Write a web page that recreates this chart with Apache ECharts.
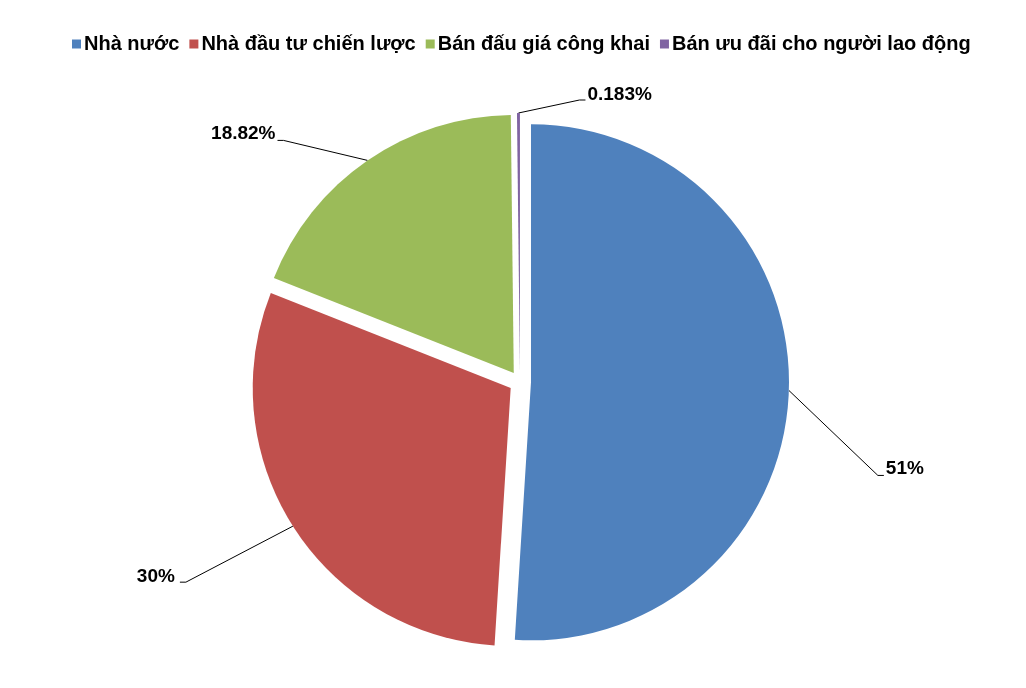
<!DOCTYPE html>
<html>
<head>
<meta charset="utf-8">
<script src="https://cdn.jsdelivr.net/npm/echarts@6/dist/echarts.min.js"></script>
<style>
html,body{margin:0;padding:0;background:#fff;}
#c{width:1026px;height:688px;}
</style>
</head>
<body>
<div id="c"></div>
<script>
const categories = ['Nhà nước', 'Nhà đầu tư chiến lược', 'Bán đấu giá công khai', 'Bán ưu đãi cho người lao động'];
const shareValues = [51, 30, 18.82, 0.183];
const colors = ['#4F81BD', '#C0504D', '#9BBB59', '#8064A2'];
// leader-line elbow offsets from slice edge (styling)
const elbowOffsets = [[89, 85], [-107, 56], [-84, -20], [61, -13]];
const labelRaise = [7, 5, 7, 5];
const labelGap = [2, 5, 2, 2];

const chart = echarts.init(document.getElementById('c'));
chart.setOption({
  animation: false,
  backgroundColor: '#fff',
  color: colors,
  legend: {
    top: 29,
    left: 67,
    icon: 'rect',
    itemWidth: 9,
    itemHeight: 9,
    itemGap: 10,
    selectedMode: false,
    textStyle: { fontFamily: 'Liberation Sans, Arial, sans-serif', fontWeight: 'bold', fontSize: 20, color: '#000', padding: [0, 0, 0, -2] },
    data: categories
  },
  series: [{
    type: 'pie',
    center: [520, 382],
    radius: 258,
    startAngle: 90,
    clockwise: true,
    selectedMode: 'multiple',
    selectedOffset: 11,
    avoidLabelOverlap: false,
    emphasis: { disabled: true },
    label: {
      show: true,
      position: 'outside',
      formatter: '{c}%',
      fontFamily: 'Liberation Sans, Arial, sans-serif',
      fontWeight: 'bold',
      fontSize: 19,
      color: '#000'
    },
    labelLine: { show: true, lineStyle: { color: '#000', width: 1 } },
    labelLayout: function (p) {
      const i = p.dataIndex;
      const s = p.labelLinePoints ? p.labelLinePoints[0] : [0, 0];
      const o = elbowOffsets[i];
      const dir = o[0] > 0 ? 1 : -1;
      const ex = s[0] + o[0], ey = s[1] + o[1];
      const tx = ex + dir * 6;
      const r = p.labelRect;
      const targetX = tx + dir * labelGap[i];
      const targetY = ey - labelRaise[i];
      const curX = dir > 0 ? r.x : r.x + r.width;
      const curY = r.y + r.height / 2;
      return {
        dx: targetX - curX,
        dy: targetY - curY,
        labelLinePoints: [s, [ex, ey], [tx, ey]]
      };
    },
    data: categories.map((n, i) => ({ name: n, value: shareValues[i], selected: true }))
  }]
});
</script>
</body>
</html>
